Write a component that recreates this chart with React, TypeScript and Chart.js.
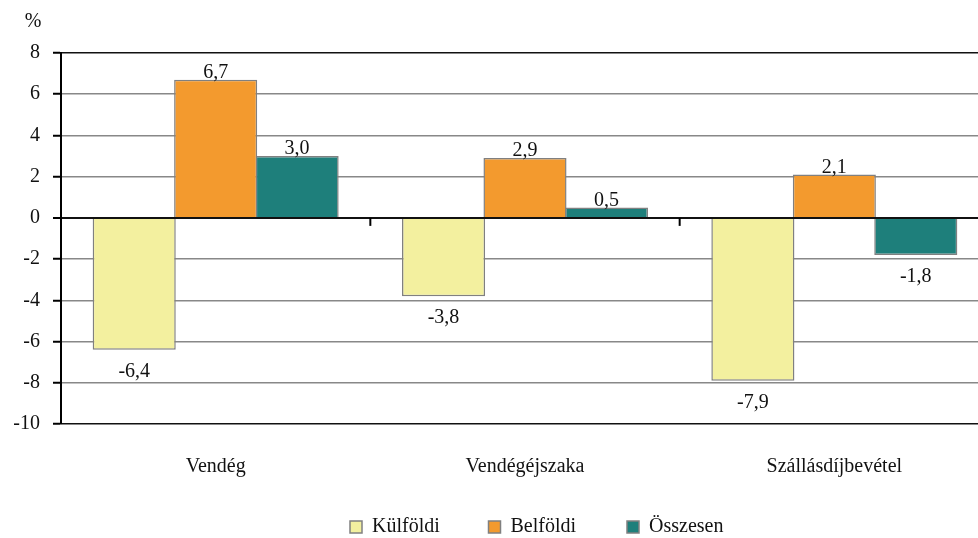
import React, { useEffect, useRef } from "react";
import { Chart, registerables } from "chart.js";

Chart.register(...registerables);

const categories = ["Vendég", "Vendégéjszaka", "Szállásdíjbevétel"];
const seriesNames = ["Külföldi", "Belföldi", "Összesen"];
const kulfoldi = [-6.4, -3.8, -7.9];
const belfoldi = [6.7, 2.9, 2.1];
const osszesen = [3.0, 0.5, -1.8];
const seriesColors = ["#F3F09F", "#F39A2E", "#1E7F7B"];
const yMin = -10;
const yMax = 8;
const yStep = 2;
const unitLabel = "%";

const FONT = "'Liberation Serif', 'Times New Roman', serif";
const FS = 20;
const fmt = (v: number) => v.toFixed(1).replace(".", ",");

const overlayPlugin = {
  id: "overlay",
  afterDatasetsDraw(chart: any) {
    const ctx = chart.ctx;
    const y = chart.scales.y;
    const x = chart.scales.x;
    ctx.save();
    // zero line ticks at category boundaries
    const zeroY = y.getPixelForValue(0);
    ctx.strokeStyle = "#000";
    ctx.lineWidth = 2;
    for (let i = 0; i < categories.length - 1; i++) {
      const bx = (x.getPixelForValue(i) + x.getPixelForValue(i + 1)) / 2;
      ctx.beginPath();
      ctx.moveTo(bx, zeroY);
      ctx.lineTo(bx, zeroY + 8);
      ctx.stroke();
    }
    // data labels
    ctx.font = `${FS}px ${FONT}`;
    ctx.fillStyle = "#111";
    ctx.textAlign = "center";
    chart.data.datasets.forEach((ds: any, di: number) => {
      const meta = chart.getDatasetMeta(di);
      meta.data.forEach((bar: any, i: number) => {
        const v = ds.data[i];
        if (v >= 0) {
          ctx.textBaseline = "alphabetic";
          ctx.fillText(fmt(v), bar.x, bar.y - 2);
        } else {
          ctx.textBaseline = "top";
          ctx.fillText(fmt(v), bar.x, bar.y + 12);
        }
      });
    });
    // unit label
    ctx.textBaseline = "middle";
    ctx.fillText(unitLabel, 33, 22);
    // legend
    const legendY = 527;
    const startX = 350;
    const pitch = 138.5;
    chart.data.datasets.forEach((ds: any, di: number) => {
      const bx = startX + di * pitch;
      ctx.fillStyle = ds.backgroundColor;
      ctx.fillRect(bx, legendY - 6, 12, 12);
      ctx.strokeStyle = "#808080";
      ctx.lineWidth = 1.5;
      ctx.strokeRect(bx, legendY - 6, 12, 12);
      ctx.fillStyle = "#111";
      ctx.textAlign = "left";
      ctx.textBaseline = "middle";
      ctx.fillText(ds.label, bx + 22, legendY);
    });
    ctx.restore();
  },
};

export default function App() {
  const canvasRef = useRef<HTMLCanvasElement | null>(null);

  useEffect(() => {
    document.body.style.margin = "0";
    document.body.style.overflow = "hidden";
    document.documentElement.style.overflow = "hidden";
    const canvas = canvasRef.current;
    if (!canvas) return;
    const values = [kulfoldi, belfoldi, osszesen];
    const chart = new Chart(canvas, {
      type: "bar",
      data: {
        labels: categories,
        datasets: seriesNames.map((name, i) => ({
          label: name,
          data: values[i],
          backgroundColor: seriesColors[i],
          borderColor: "#808080",
          borderWidth: 1.5,
          categoryPercentage: 0.79,
          barPercentage: 1.02,
        })),
      },
      options: {
        animation: false,
        responsive: false,
        maintainAspectRatio: false,
        layout: { padding: { top: 53, left: 0, right: 1, bottom: 54 } },
        plugins: {
          legend: { display: false },
          tooltip: { enabled: false },
        },
        scales: {
          x: {
            grid: { display: false, drawTicks: false },
            border: { display: false },
            ticks: {
              padding: 31,
              color: "#111",
              font: { family: FONT, size: FS },
            },
            afterFit(scale: any) {
              scale.height = 60;
            },
          },
          y: {
            min: yMin,
            max: yMax,
            ticks: {
              stepSize: yStep,
              padding: 13,
              color: "#111",
              font: { family: FONT, size: FS },
              callback: (v: any) => String(v),
            },
            grid: {
              color: (c: any) => {
                const v = c.tick && c.tick.value;
                return v === 0 || v === yMax || v === yMin ? "#111" : "#888";
              },
              lineWidth: (c: any) => {
                const v = c.tick && c.tick.value;
                return v === 0 ? 2 : 1.5;
              },
              tickColor: "#000",
              tickLength: 8,
              tickWidth: 2,
            },
            border: { display: true, color: "#000", width: 2 },
            afterFit(scale: any) {
              scale.width = 61;
            },
          },
        },
      },
      plugins: [overlayPlugin],
    });
    return () => chart.destroy();
  }, []);

  return (
    <div style={{ position: "absolute", left: 0, top: 0, width: 990, height: 538 }}>
      <canvas ref={canvasRef} width={990} height={538} style={{ width: 990, height: 538 }} />
    </div>
  );
}
